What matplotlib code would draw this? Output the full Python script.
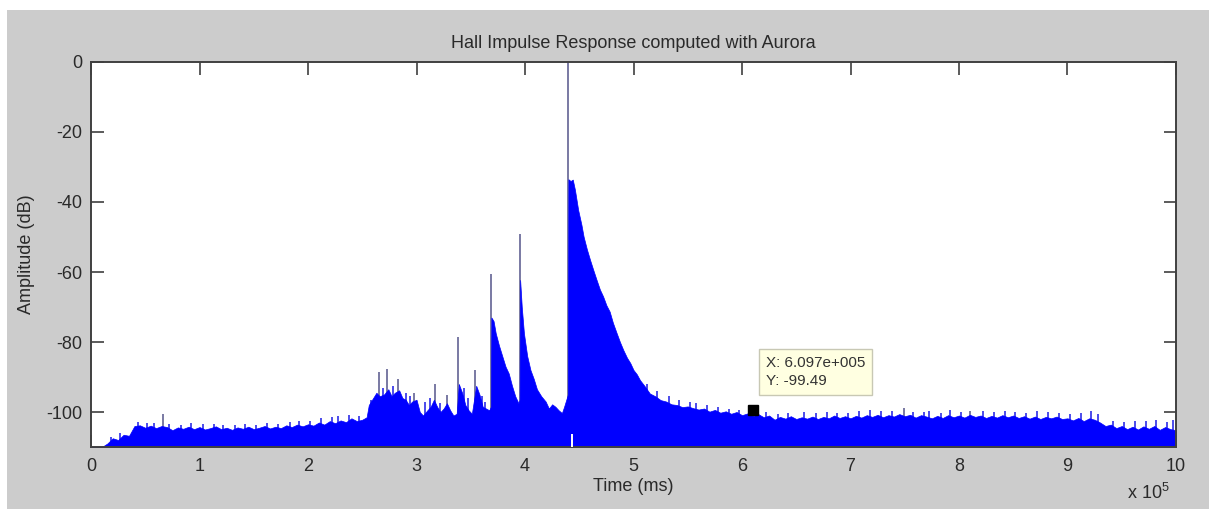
import matplotlib
matplotlib.use("Agg")
from matplotlib import pyplot as plt
from matplotlib.patches import Rectangle

plt.rcParams['font.family'] = ['Liberation Sans', 'DejaVu Sans']
plt.rcParams['mathtext.fontset'] = 'custom'
plt.rcParams['mathtext.rm'] = 'Liberation Sans'
plt.rcParams['axes.unicode_minus'] = False

# upper envelope of the response, time in units of 1e5 ms, level in dB
env_t = [0.00, 0.05, 0.10, 0.15, 0.20, 0.25, 0.30, 0.35, 0.40, 0.45,
         0.50, 0.55, 0.60, 0.65, 0.70, 0.75, 0.80, 0.85, 0.90, 0.95,
         1.00, 1.05, 1.10, 1.15, 1.20, 1.25, 1.30, 1.35, 1.40, 1.45,
         1.50, 1.55, 1.60, 1.65, 1.70, 1.75, 1.80, 1.85, 1.90, 1.95,
         2.00, 2.05, 2.10, 2.15, 2.20, 2.25, 2.30, 2.35, 2.40, 2.45,
         2.50, 2.54, 2.56, 2.60, 2.63, 2.66, 2.70, 2.74, 2.77, 2.80,
         2.84, 2.87, 2.90, 2.93, 2.96, 3.00, 3.03, 3.06, 3.10, 3.13,
         3.16, 3.19, 3.22, 3.25, 3.28, 3.31, 3.34, 3.37, 3.39, 3.42,
         3.45, 3.48, 3.51, 3.53, 3.55, 3.58, 3.61, 3.64, 3.67, 3.685,
         3.69, 3.71, 3.73, 3.76, 3.79, 3.82, 3.85, 3.88, 3.91, 3.94,
         3.95, 3.955, 3.97, 3.99, 4.02, 4.05, 4.08, 4.11, 4.15, 4.19,
         4.22, 4.25, 4.28, 4.31, 4.34, 4.36, 4.38, 4.395, 4.40, 4.42,
         4.44, 4.46, 4.49, 4.52, 4.54, 4.57, 4.60, 4.63, 4.66, 4.69,
         4.72, 4.75, 4.78, 4.81, 4.845, 4.875, 4.906, 4.94, 4.97, 5.00,
         5.03, 5.06, 5.10, 5.15, 5.20, 5.25, 5.30, 5.35, 5.40, 5.45,
         5.50, 5.55, 5.60, 5.65, 5.70, 5.75, 5.80, 5.85, 5.90, 5.95,
         6.00, 6.05, 6.10, 6.15, 6.20, 6.25, 6.30, 6.35, 6.40, 6.45,
         6.50, 6.55, 6.60, 6.65, 6.70, 6.75, 6.80, 6.85, 6.90, 6.95,
         7.00, 7.05, 7.10, 7.15, 7.20, 7.25, 7.30, 7.35, 7.40, 7.45,
         7.50, 7.55, 7.60, 7.65, 7.70, 7.75, 7.80, 7.85, 7.90, 7.95,
         8.00, 8.05, 8.10, 8.15, 8.20, 8.25, 8.30, 8.35, 8.40, 8.45,
         8.50, 8.55, 8.60, 8.65, 8.70, 8.75, 8.80, 8.85, 8.90, 8.95,
         9.00, 9.05, 9.10, 9.15, 9.20, 9.25, 9.30, 9.35, 9.40, 9.45,
         9.50, 9.55, 9.60, 9.65, 9.70, 9.75, 9.80, 9.85, 9.90, 9.95,
         10.00]
env_db = [-110.0, -110.0, -110.0, -109.0, -107.5, -108.0, -106.5, -106.8, -104.0, -103.8,
          -104.5, -103.9, -104.6, -104.0, -104.3, -105.2, -104.4, -104.8, -104.2, -104.9,
          -104.3, -105.0, -104.6, -104.1, -104.9, -104.5, -105.1, -104.4, -104.8, -104.2,
          -104.9, -104.5, -104.0, -104.7, -104.2, -104.6, -103.8, -104.3, -103.6, -104.1,
          -103.5, -103.9, -103.0, -103.6, -102.6, -103.2, -102.4, -102.9, -101.8, -102.6,
          -102.2, -101.5, -98.0, -96.0, -94.5, -95.5, -95.0, -93.5, -95.5, -94.5,
          -93.8, -96.0, -96.5, -98.0, -97.0, -96.5, -100.0, -101.0, -99.5, -98.5,
          -96.5, -98.5, -100.0, -99.0, -97.5, -99.5, -101.0, -100.5, -92.0, -94.5,
          -98.0, -99.5, -100.5, -96.5, -92.5, -95.0, -98.5, -99.0, -99.5, -98.5,
          -73.0, -74.0, -77.5, -81.0, -84.0, -87.0, -89.0, -92.5, -95.5, -97.5,
          -96.5, -62.3, -70.0, -77.5, -84.0, -88.0, -90.5, -93.5, -95.5, -97.0,
          -99.0, -97.8, -98.5, -99.5, -100.3, -98.5, -96.5, -95.0, -33.5, -34.0,
          -33.6, -36.5, -42.3, -46.5, -49.9, -53.5, -56.6, -59.5, -62.3, -65.0,
          -67.0, -69.5, -71.3, -74.5, -77.5, -80.0, -82.3, -84.5, -86.0, -88.0,
          -89.2, -90.9, -92.5, -94.7, -95.5, -96.6, -97.0, -97.8, -98.0, -98.6,
          -98.4, -98.9, -99.3, -99.0, -99.9, -99.4, -100.2, -99.8, -100.5, -100.0,
          -100.9, -100.4, -101.2, -100.6, -101.5, -101.0, -102.2, -101.4, -101.9, -101.2,
          -102.0, -101.5, -101.9, -101.3, -102.0, -101.4, -101.8, -101.0, -101.7, -101.2,
          -101.8, -101.1, -101.6, -100.9, -101.4, -100.8, -101.5, -100.9, -101.3, -100.6,
          -101.2, -100.8, -101.6, -100.9, -101.3, -101.8, -101.1, -101.7, -100.9, -101.5,
          -101.0, -101.6, -100.8, -101.4, -101.0, -101.7, -101.1, -101.6, -100.9, -101.5,
          -101.0, -101.7, -101.2, -101.9, -101.3, -102.0, -101.4, -101.8, -101.3, -102.0,
          -101.8, -102.4, -101.7, -102.6, -101.8, -102.2, -103.0, -104.0, -103.6, -104.6,
          -104.0, -104.9, -104.2, -105.0, -104.1, -104.8, -104.0, -105.1, -104.3, -104.9,
          -105.2]

# isolated reflections sticking out above the envelope
spike_t = [0.66, 2.65, 2.73, 2.83, 2.98, 3.17, 3.28, 3.38, 3.54, 3.69, 3.955, 4.40, 6.10, 7.49, 8.10]
spike_db = [-100.5, -88.5, -87.8, -90.5, -94.5, -92.0, -95.0, -78.5, -88.0, -60.5, -49.2, 0.0, -99.5, -98.9, -99.6]

# short noise peaks on top of the envelope
peak_t = [0.18, 0.27, 0.43, 0.52, 0.58, 0.72, 0.83, 0.92, 1.03, 1.13,
          1.22, 1.33, 1.42, 1.52, 1.62, 1.72, 1.83, 1.92, 2.02, 2.12,
          2.22, 2.28, 2.38, 2.47, 2.58, 2.69, 2.78, 2.90, 2.94, 3.08,
          3.12, 3.22, 3.44, 3.47, 3.60, 3.63, 5.12, 5.22, 5.33, 5.42,
          5.52, 5.58, 5.68, 5.78, 5.88, 5.97, 6.22, 6.33, 6.42, 6.57,
          6.68, 6.78, 6.88, 6.98, 7.08, 7.18, 7.28, 7.38, 7.58, 7.68,
          7.72, 7.83, 7.92, 8.02, 8.22, 8.32, 8.42, 8.52, 8.62, 8.72,
          8.82, 8.92, 9.02, 9.12, 9.22, 9.28, 9.42, 9.52, 9.62, 9.72,
          9.82, 9.92, 9.97]
peak_db = [-107.0, -106.0, -102.8, -103.2, -103.0, -103.4, -103.6, -103.2, -103.5, -103.3,
           -103.8, -103.6, -103.4, -103.7, -103.0, -103.3, -102.8, -102.5, -102.6, -101.8,
           -101.5, -101.0, -100.8, -101.2, -96.5, -93.0, -92.5, -94.5, -95.5, -97.0,
           -96.0, -97.5, -93.0, -96.0, -95.5, -97.0, -92.0, -94.0, -95.5, -96.5,
           -97.0, -97.5, -98.0, -98.5, -99.0, -99.5, -100.0, -100.5, -100.2, -100.0,
           -100.3, -100.0, -100.2, -100.4, -99.8, -99.5, -99.8, -99.6, -99.9, -100.0,
           -99.6, -100.2, -99.5, -100.0, -99.8, -99.9, -99.6, -100.0, -100.3, -99.8,
           -100.1, -100.2, -100.5, -100.4, -99.6, -100.5, -102.5, -102.8, -102.5, -102.6,
           -102.4, -102.8, -102.3]

# small gap at the floor right after the direct sound
gap_t = [4.42, 4.445]
gap_top = -106.4

floor_db = -110
tip_x = 6.097
tip_y = -99.49

fig = plt.figure(figsize=(12.09, 5.09), dpi=100, facecolor='#cccccc')
fig.patches.append(Rectangle((0, 0), 7 / 1209, 1, transform=fig.transFigure,
                             facecolor='white', edgecolor='none', zorder=-5))
fig.patches.append(Rectangle((0, 1 - 10 / 509), 1, 10 / 509, transform=fig.transFigure,
                             facecolor='white', edgecolor='none', zorder=-5))

ax = fig.add_axes([0.0753, 0.1218, 0.8974, 0.7564])
ax.set_facecolor('white')

ax.vlines(spike_t, floor_db, spike_db, color='#6e6e9c', lw=1.3, zorder=1)
ax.vlines(peak_t, floor_db, peak_db, color='#1a1ae6', lw=1.1, zorder=1)
ax.fill_between(env_t, floor_db, env_db, color='#0000ff', lw=0.5, zorder=2)
ax.fill_between(gap_t, floor_db, gap_top, color='white', lw=0, zorder=3)

ax.plot([tip_x], [tip_y], marker='s', ms=7, color='black', zorder=6)
ax.annotate(f'X: {tip_x:.3f}e+005\nY: {tip_y:.2f}', xy=(tip_x, tip_y),
            xytext=(13, 22), textcoords='offset pixels', ha='left', va='bottom',
            fontsize=11, color='#333333', linespacing=1.35, zorder=7,
            bbox=dict(boxstyle='square,pad=0.45', facecolor='#ffffe1', edgecolor='#c8c8b4', lw=1))

ax.set_xlim(0, 10)
ax.set_ylim(floor_db, 0)
ax.set_xticks(range(0, 11))
ax.set_xticklabels([str(i) for i in range(0, 11)])
ax.set_yticks([-100, -80, -60, -40, -20, 0])
ax.tick_params(direction='in', length=9, width=1.2, color='#404040',
               top=True, right=True, labelsize=13, labelcolor='#2a2a2a')
ax.tick_params(axis='x', pad=8)
ax.tick_params(axis='y', pad=6)
for sp in ax.spines.values():
    sp.set_color('#404040')
    sp.set_linewidth(1.4)

ax.set_title('Hall Impulse Response computed with Aurora', fontsize=13, color='#2a2a2a', pad=10)
ax.set_xlabel('Time (ms)', fontsize=13, color='#2a2a2a', labelpad=2)
ax.set_ylabel('Amplitude (dB)', fontsize=13, color='#2a2a2a', labelpad=8)
fig.text(1148 / 1209, 1 - 493 / 509, r'x 10$^{5}$', fontsize=13, color='#2a2a2a',
         ha='center', va='center')

fig.savefig('out.png', dpi=100, facecolor=fig.get_facecolor())
